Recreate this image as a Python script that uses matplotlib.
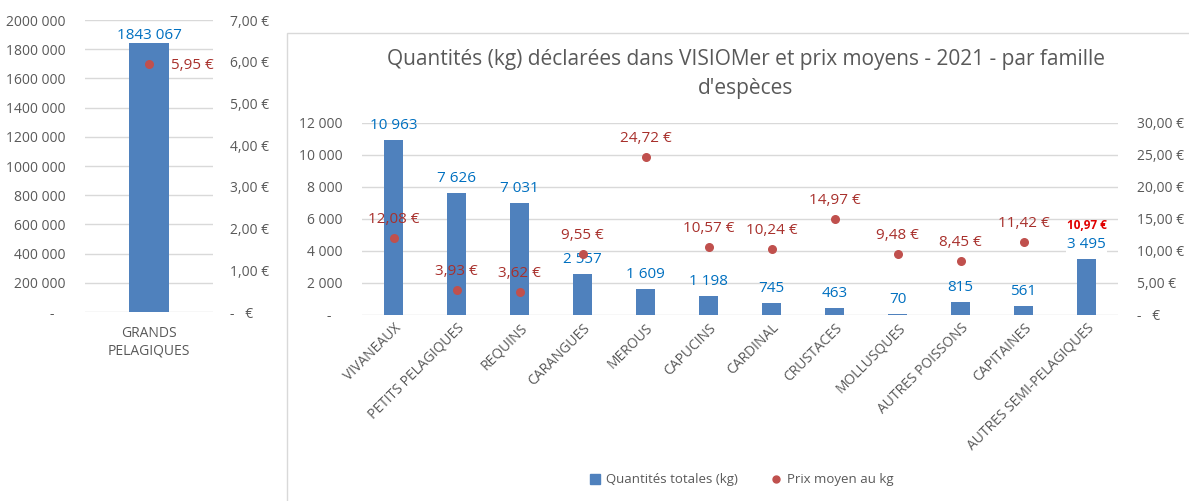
import matplotlib
matplotlib.use('Agg')
import matplotlib.pyplot as plt
from matplotlib import font_manager
from matplotlib.patches import Rectangle, Patch
from matplotlib.lines import Line2D
from matplotlib.ticker import FuncFormatter
import numpy as np

# ---- data ----
gp_label = "GRANDS\nPELAGIQUES"
gp_qty = 1843067
gp_price = 5.95

categories = ["VIVANEAUX", "PETITS PELAGIQUES", "REQUINS", "CARANGUES", "MEROUS",
              "CAPUCINS", "CARDINAL", "CRUSTACES", "MOLLUSQUES", "AUTRES POISSONS",
              "CAPITAINES", "AUTRES SEMI-PELAGIQUES"]
quantities = [10963, 7626, 7031, 2557, 1609, 1198, 745, 463, 70, 815, 561, 3495]
prices = [12.08, 3.93, 3.62, 9.55, 24.72, 10.57, 10.24, 14.97, 9.48, 8.45, 11.42, 10.97]

title = "Quantités (kg) déclarées dans VISIOMer et prix moyens - 2021 - par famille\nd'espèces"

BLUE = "#4F81BD"
RED = "#C0504D"
LBL_BLUE = "#0070C0"
LBL_RED = "#A8302C"
GREY = "#595959"
GRID = "#D9D9D9"

names = {f.name for f in font_manager.fontManager.ttflist}
font = 'Liberation Sans Narrow' if 'Liberation Sans Narrow' in names else 'Open Sans'
plt.rcParams['font.family'] = [font, 'DejaVu Sans']

W, H = 1189, 501


def fmt_qty(v, pos=None):
    v = int(round(v))
    if v == 0:
        return "-   "
    if v >= 1000:
        return f"{v // 1000} {v % 1000:03d}"
    return str(v)


def fmt_eur(v, pos=None):
    if abs(v) < 1e-9:
        return "-   €"
    return f"{v:.2f}".replace('.', ',') + " €"


def style_axes(ax):
    for s in ax.spines.values():
        s.set_visible(False)
    ax.tick_params(length=0, colors=GREY, labelsize=10)


fig = plt.figure(figsize=(W / 100, H / 100), dpi=100)

# ---- left chart : grands pelagiques ----
ax1 = fig.add_axes([85 / W, 1 - 312 / H, 128 / W, 292 / H])
ax1.bar([0], [gp_qty], width=0.305, color=BLUE, zorder=2)
ax1.set_xlim(-0.5, 0.5)
ax1.set_ylim(0, 2000000)
ax1.set_yticks(np.arange(0, 2000001, 200000))
ax1.yaxis.set_major_formatter(FuncFormatter(fmt_qty))
ax1.set_xticks([0])
ax1.set_xticklabels([gp_label], fontsize=10, color=GREY, linespacing=1.2)
ax1.grid(axis='y', color=GRID, lw=1, zorder=0)
style_axes(ax1)
ax1.tick_params(axis='y', pad=14)
ax1.tick_params(axis='x', pad=10)
ax1.annotate(fmt_qty(gp_qty), (0, gp_qty), xytext=(0, 0), textcoords='offset points',
             ha='center', va='bottom', color=LBL_BLUE, fontsize=11)

ax1b = ax1.twinx()
ax1b.set_ylim(0, 7)
ax1b.set_yticks(np.arange(0, 8, 1))
ax1b.yaxis.set_major_formatter(FuncFormatter(fmt_eur))
style_axes(ax1b)
ax1b.tick_params(axis='y', pad=12)
ax1b.scatter([0], [gp_price], s=30, color=RED, zorder=3)
ax1b.annotate(fmt_eur(gp_price), (0, gp_price), xytext=(16, -1), textcoords='offset points',
              ha='left', va='center', color=LBL_RED, fontsize=11)

# ---- right chart : other families ----
fig.add_artist(Rectangle((287 / W, -0.01), 1.0, 1 - 33 / H + 0.01, transform=fig.transFigure,
                         fill=False, edgecolor=GRID, lw=1))
fig.text(746 / W, 1 - 74 / H, title, ha='center', va='center', fontsize=15,
         color=GREY, linespacing=1.55)

x = np.arange(len(categories))
ax2 = fig.add_axes([362 / W, 1 - 315 / H, 756 / W, 192 / H])
ax2.bar(x, quantities, width=0.31, color=BLUE, zorder=2)
ax2.set_xlim(-0.5, len(categories) - 0.5)
ax2.set_ylim(0, 12000)
ax2.set_yticks(np.arange(0, 12001, 2000))
ax2.yaxis.set_major_formatter(FuncFormatter(fmt_qty))
ax2.set_xticks(x)
ax2.set_xticklabels(categories, rotation=45, ha='right', va='top', rotation_mode='anchor',
                    fontsize=9.5, color=GREY)
ax2.grid(axis='y', color=GRID, lw=1, zorder=0)
style_axes(ax2)
ax2.tick_params(axis='y', pad=14)
ax2.tick_params(axis='x', pad=4)

ax2b = ax2.twinx()
ax2b.set_ylim(0, 30)
ax2b.set_yticks(np.arange(0, 31, 5))
ax2b.yaxis.set_major_formatter(FuncFormatter(fmt_eur))
style_axes(ax2b)
ax2b.tick_params(axis='y', pad=14)
ax2b.scatter(x, prices, s=30, color=RED, zorder=3)

last = len(categories) - 1
for i, (q, p) in enumerate(zip(quantities, prices)):
    if i == last:
        ax2b.annotate(fmt_eur(p), (i, p), xytext=(0, 9), textcoords='offset points',
                      ha='center', va='bottom', color='#E00000', fontsize=8.5, fontweight='bold')
        ax2b.annotate(fmt_qty(q), (i, q * 30 / 12000), xytext=(0, 5), textcoords='offset points',
                      ha='center', va='bottom', color=LBL_BLUE, fontsize=11, zorder=5,
                      bbox=dict(boxstyle='square,pad=0.1', fc='white', ec='none'))
    else:
        ax2b.annotate(fmt_eur(p), (i, p), xytext=(0, 8), textcoords='offset points',
                      ha='center', va='bottom', color=LBL_RED, fontsize=11)
        ax2.annotate(fmt_qty(q), (i, q), xytext=(0, 5), textcoords='offset points',
                     ha='center', va='bottom', color=LBL_BLUE, fontsize=11)

handles = [Patch(color=BLUE, label="Quantités totales (kg)"),
           Line2D([], [], marker='o', ls='none', color=RED, markersize=5, label="Prix moyen au kg")]
fig.legend(handles=handles, loc='center', bbox_to_anchor=(742 / W, 1 - 480 / H), ncol=2,
           frameon=False, fontsize=9.5, labelcolor=GREY, handlelength=0.7, handleheight=0.7,
           columnspacing=2.5, handletextpad=0.5)

fig.savefig("out.png", dpi=100)
